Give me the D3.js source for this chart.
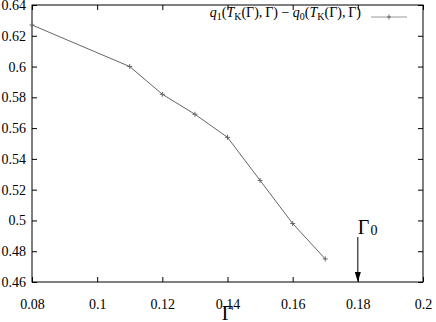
<!DOCTYPE html>
<html>
<head>
<meta charset="utf-8">
<script src="https://cdn.jsdelivr.net/npm/d3@7"></script>
<style>
  body { margin: 0; background: #fff; }
</style>
</head>
<body>
<svg id="chart" width="436" height="322"></svg>
<script>
// data
var gammaValues = [0.08, 0.11, 0.12, 0.13, 0.14, 0.15, 0.16, 0.17];
var qDiffValues = [0.627, 0.600, 0.582, 0.569, 0.554, 0.526, 0.498, 0.475];
var xTicks = [0.08, 0.1, 0.12, 0.14, 0.16, 0.18, 0.2];
var yTicks = [0.46, 0.48, 0.5, 0.52, 0.54, 0.56, 0.58, 0.6, 0.62, 0.64];
var gamma0 = 0.18;

var serif = 'Liberation Serif';

var svg = d3.select('#chart');
var margin = {left: 32, right: 13, top: 5, bottom: 40};
var width = 436 - margin.left - margin.right;
var height = 322 - margin.top - margin.bottom;

var x = d3.scaleLinear().domain([0.08, 0.2]).range([0, width]);
var y = d3.scaleLinear().domain([0.46, 0.64]).range([height, 0]);

var g = svg.append('g')
    .attr('transform', 'translate(' + margin.left + ',' + margin.top + ')');

var fmt = d3.format('');

// axes with inward ticks, mirrored on top and right
function styleAxis(sel) {
    sel.attr('font-family', serif).attr('font-size', 14);
    sel.select('.domain').remove();
    sel.selectAll('.tick line').attr('stroke', '#000');
    sel.selectAll('.tick text').attr('fill', '#000');
}

g.append('g')
    .attr('transform', 'translate(0,' + height + ')')
    .call(d3.axisBottom(x).tickValues(xTicks).tickSize(-5).tickPadding(17).tickFormat(fmt))
    .call(styleAxis);
g.append('g')
    .call(d3.axisTop(x).tickValues(xTicks).tickSize(-5).tickFormat(''))
    .call(styleAxis);
g.append('g')
    .call(d3.axisLeft(y).tickValues(yTicks).tickSize(-5).tickPadding(6).tickFormat(fmt))
    .call(styleAxis);
g.append('g')
    .attr('transform', 'translate(' + width + ',0)')
    .call(d3.axisRight(y).tickValues(yTicks).tickSize(-5).tickFormat(''))
    .call(styleAxis);

g.append('rect')
    .attr('width', width).attr('height', height)
    .attr('fill', 'none').attr('stroke', '#000').attr('stroke-width', 1);

// data line
var pts = gammaValues.map(function (d, i) { return [d, qDiffValues[i]]; });
var line = d3.line().x(function (d) { return x(d[0]); }).y(function (d) { return y(d[1]); });
var lineColor = '#666';

g.append('path')
    .datum(pts)
    .attr('d', line)
    .attr('fill', 'none')
    .attr('stroke', lineColor)
    .attr('stroke-width', 1);

g.selectAll('.pt')
    .data(pts)
    .enter()
    .append('path')
    .attr('class', 'pt')
    .attr('d', 'M-2.5,0H2.5M0,-2.5V2.5')
    .attr('transform', function (d) { return 'translate(' + x(d[0]) + ',' + y(d[1]) + ')'; })
    .attr('stroke', lineColor)
    .attr('stroke-width', 1);

// legend
var legend = g.append('g').attr('transform', 'translate(' + (width - 5) + ',' + 12 + ')');
var lt = legend.append('text')
    .attr('x', -57).attr('y', 0)
    .attr('text-anchor', 'end')
    .attr('font-family', serif)
    .attr('font-size', 14);
// sub: true for subscript, 'back' for returning to baseline
function part(txt, italic, sub) {
    var t = lt.append('tspan').text(txt);
    if (italic) t.attr('font-style', 'italic');
    if (sub === true) t.attr('font-size', 10).attr('dy', 3);
    if (sub === 'back') t.attr('dy', -3);
    return t;
}
part('q', true);
part('1', false, true);
part('(', false, 'back');
part('T', true);
part('K', false, true);
part('(Γ),\u2009Γ) − ', false, 'back');
part('q', true);
part('0', false, true);
part('(', false, 'back');
part('T', true);
part('K', false, true);
part('(Γ),\u2009Γ)', false, 'back');

legend.append('line')
    .attr('x1', -47).attr('x2', -11).attr('y1', 0).attr('y2', 0)
    .attr('stroke', '#999');
legend.append('path')
    .attr('d', 'M-2,0H2M0,-2.5V2.5')
    .attr('transform', 'translate(-29,0)')
    .attr('stroke', lineColor);

// Gamma_0 arrow
var ax = x(gamma0);
g.append('line')
    .attr('x1', ax).attr('x2', ax)
    .attr('y1', height - 45).attr('y2', height - 2)
    .attr('stroke', '#000');
g.append('path')
    .attr('d', 'M' + (ax - 3) + ',' + (height - 10) + 'L' + ax + ',' + height + 'L' + (ax + 3) + ',' + (height - 10) + 'Z')
    .attr('fill', '#000');
var gl = g.append('text')
    .attr('x', ax).attr('y', height - 48)
    .attr('font-family', serif)
    .attr('font-size', 20);
gl.append('tspan').text('Γ');
gl.append('tspan').text('0').attr('font-size', 14).attr('dy', 1).attr('dx', 1);

// x axis title
g.append('text')
    .attr('x', width / 2).attr('y', height + 38)
    .attr('text-anchor', 'middle')
    .attr('font-family', serif)
    .attr('font-size', 20)
    .text('Γ');
</script>
</body>
</html>
